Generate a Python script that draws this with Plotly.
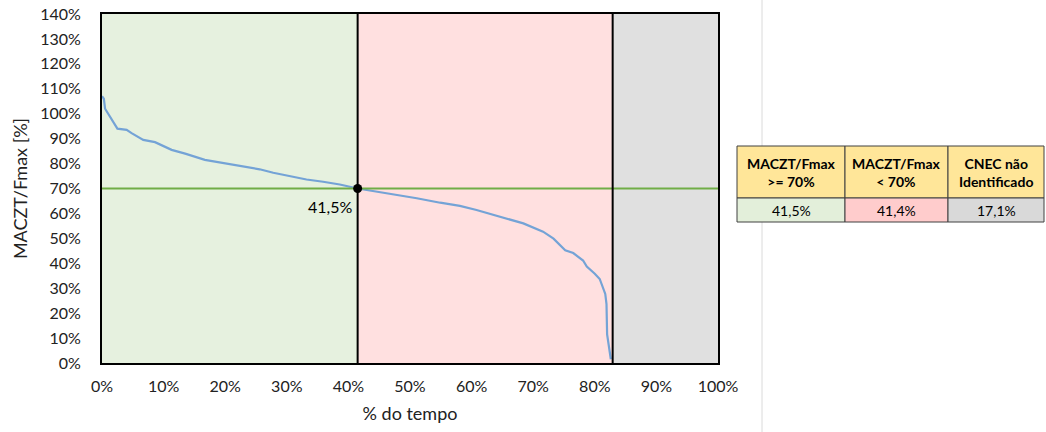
import plotly.graph_objects as go

# ---- data ----
time_pct = [0, 0.3, 0.5, 1.3, 2.5, 4.0, 4.8, 6.7, 8.6, 11.3, 13.5, 16.7, 20.5, 22.4, 25.6,
            27.8, 30.5, 33.2, 35.9, 38.6, 41.5, 44.6, 48.4, 51.1, 54.9, 58.1, 60.8, 64.6,
            68.4, 71.6, 73.3, 75.2, 76.5, 78.1, 78.7, 80.0, 80.8, 81.7, 81.9, 82.0, 82.3, 82.6]
ratio_pct = [107, 106, 102, 99, 94, 93.5, 92.2, 89.5, 88.6, 85.5, 84, 81.5, 79.8, 79.2, 77.7,
             76.3, 75, 73.6, 72.7, 71.6, 70, 68.7, 67.4, 66.1, 64.3, 63, 61.4, 58.7,
             56, 52.7, 49.9, 45.2, 44.1, 41.1, 38.7, 35.8, 33.7, 27.7, 23.6, 11.5, 6.9, 1.5]
threshold = 70
share_above = 41.5
share_below = 41.4
share_unknown = 17.1
x_ticks = list(range(0, 101, 10))
y_ticks = list(range(0, 141, 10))
x_labels = [f"{v}%" for v in x_ticks]
y_labels = [f"{v}%" for v in y_ticks]
table_headers = ["MACZT/Fmax<br>>= 70%", "MACZT/Fmax<br>< 70%", "CNEC não<br>Identificado"]
table_values = ["41,5%", "41,4%", "17,1%"]

FONT = "Lato"
W, H = 1046, 432
L, R, T, B = 102, 718, 14, 363

def px(xp):
    return (xp - L) / (R - L)

def py(yp):
    return (B - yp) / (B - T)

b1 = share_above
b2 = share_above + share_below

fig = go.Figure()

fig.add_trace(go.Scatter(x=time_pct, y=ratio_pct, mode="lines",
                         line=dict(color="#74a3d6", width=2.2), hoverinfo="skip",
                         showlegend=False))
fig.add_trace(go.Scatter(x=[0, 100], y=[threshold, threshold], mode="lines",
                         line=dict(color="#70ad47", width=2), showlegend=False))
fig.add_trace(go.Scatter(x=[share_above], y=[threshold], mode="markers",
                         marker=dict(color="black", size=9), showlegend=False))

shapes = []
for x0, x1, col in [(0, b1, "#e6f1df"), (b1, b2, "#ffe0e0"), (b2, 100, "#e0e0e0")]:
    shapes.append(dict(type="rect", xref="x", yref="y", x0=x0, x1=x1, y0=0, y1=140,
                       fillcolor=col, line=dict(width=0), layer="below"))
for xb in [b1, b2]:
    shapes.append(dict(type="line", xref="x", yref="y", x0=xb, x1=xb, y0=0, y1=140,
                       line=dict(color="black", width=2)))

# excel gridline
shapes.append(dict(type="line", xref="paper", yref="paper", x0=px(762), x1=px(762),
                   y0=py(0), y1=py(432), line=dict(color="#dadada", width=1)))

# table
cols = [737, 845, 948, 1044]
rows = [146, 198, 222]
fills = ["#e3efda", "#ffcccc", "#d9d9d9"]
annotations = []
for i in range(3):
    shapes.append(dict(type="rect", xref="paper", yref="paper",
                       x0=px(cols[i]), x1=px(cols[i + 1]), y0=py(rows[0]), y1=py(rows[1]),
                       fillcolor="#ffe699", line=dict(color="#404040", width=1)))
    shapes.append(dict(type="rect", xref="paper", yref="paper",
                       x0=px(cols[i]), x1=px(cols[i + 1]), y0=py(rows[1]), y1=py(rows[2]),
                       fillcolor=fills[i], line=dict(color="#404040", width=1)))
    annotations.append(dict(xref="paper", yref="paper", x=px((cols[i] + cols[i + 1]) / 2),
                            y=py((rows[0] + rows[1]) / 2), text="<b>" + table_headers[i] + "</b>",
                            showarrow=False, font=dict(family=FONT, size=14, color="#000"),
                            xanchor="center", yanchor="middle"))
    annotations.append(dict(xref="paper", yref="paper", x=px((cols[i] + cols[i + 1]) / 2),
                            y=py((rows[1] + rows[2]) / 2), text=table_values[i],
                            showarrow=False, font=dict(family=FONT, size=14, color="#000"),
                            xanchor="center", yanchor="middle"))

annotations.append(dict(x=share_above, y=threshold, xref="x", yref="y",
                        text=f"{share_above:.1f}%".replace(".", ","), showarrow=False,
                        xanchor="right", yanchor="top", xshift=-4, yshift=-6,
                        font=dict(family=FONT, size=16, color="#000")))

fig.update_layout(
    width=W, height=H,
    margin=dict(l=L, r=W - R, t=T, b=H - B, autoexpand=False),
    paper_bgcolor="white", plot_bgcolor="white",
    shapes=shapes, annotations=annotations,
    font=dict(family=FONT, size=16, color="#222"),
    showlegend=False,
)
fig.update_xaxes(range=[0, 100], tickmode="array", tickvals=x_ticks, ticktext=x_labels,
                 showgrid=False, automargin=False,
                 zeroline=False, showline=True, linecolor="black", linewidth=2, mirror=True,
                 ticks="outside", ticklen=8, tickcolor="rgba(0,0,0,0)",
                 title=dict(text="% do tempo", font=dict(size=18), standoff=13))
fig.update_yaxes(range=[0, 140], tickmode="array", tickvals=y_ticks, ticktext=y_labels,
                 showgrid=False, automargin=False,
                 zeroline=False, showline=True, linecolor="black", linewidth=2, mirror=True,
                 ticks="outside", ticklen=16, tickcolor="rgba(0,0,0,0)",
                 title=dict(text="MACZT/Fmax [%]", font=dict(size=18), standoff=8))

fig.write_html("out.html")
